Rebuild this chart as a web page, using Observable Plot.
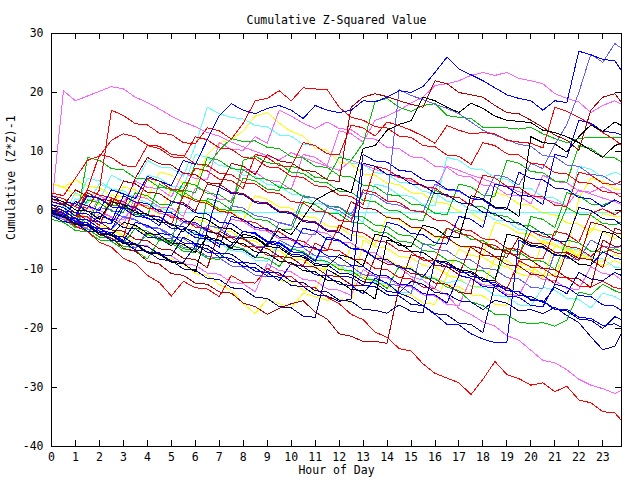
<!DOCTYPE html>
<html><head><meta charset="utf-8">
<script src="https://cdn.jsdelivr.net/npm/d3@7"></script>
<script src="https://cdn.jsdelivr.net/npm/@observablehq/plot@0.6"></script>
<style>body{margin:0;background:#fff}</style>
</head><body><div id="chart"></div>
<script>
const hours = [0,0.5,1,1.5,2,2.5,3,3.5,4,4.5,5,5.5,6,6.5,7,7.5,8,8.5,9,9.5,10,10.5,11,11.5,12,12.5,13,13.5,14,14.5,15,15.5,16,16.5,17,17.5,18,18.5,19,19.5,20,20.5,21,21.5,22,22.5,23,23.5,23.78];
const xTicks = [0,1,2,3,4,5,6,7,8,9,10,11,12,13,14,15,16,17,18,19,20,21,22,23];
const yTicks = [-40,-30,-20,-10,0,10,20,30];

const magTop = [0.5,20.3,18.6,19.4,20.2,21.0,20.6,19.2,18.3,17.2, 16.0,15.0,14.2,13.2,12.6,11.6,10.8,10.0,9.3,8.6, 9.8,9.0,8.2,7.5,6.8,8.5,7.8,7.0,6.2,5.6, 5.0,4.2,3.6,7.5,6.8,6.0,5.4,4.6,4.0,3.2, 2.6,2.0,1.4,0.8,3.5,2.8,2.1,1.5, 1.0];
const blueTop = [-0.5,-1.2,1.5,0.8,0.0,3.5,2.8,2.0,5.8,5.0, 4.2,8.5,7.8,12.0,16.1,18.1,17.0,16.4,17.3,17.8, 17.0,15.6,17.8,17.0,16.6,17.0,18.6,18.4,19.2,20.3, 20.0,21.0,23.4,26.0,24.0,23.0,22.0,20.8,19.6,19.0, 18.6,17.0,18.6,18.3,27.0,26.4,25.6,25.4, 23.7];
const ltBlueTop = [0.0,-0.6,-1.7,-2.1,0.5,0.1,-1.2,-1.6,-2.7,-3.0, -4.1,-2.0,-2.4,-3.6,-4.0,0.8,0.4,-0.9,-1.2,-2.1, -2.6,2.5,2.1,0.8,0.6,-0.6,3.0,2.6,1.2,0.9, 0.0,-0.3,4.5,3.5,3.2,2.1,1.8,6.0,5.6,4.3, 8.0,7.1,11.2,14.6,20.0,26.5,25.1,28.3, 27.5];
const redBottom = [0.2,-1.0,-2.7,-3.5,-5.4,-6.2,-8.1,-9.0,-11.0,-12.2, -14.5,-12.0,-13.1,-13.3,-14.6,-11.0,-12.2,-12.3,-9.8,-11.0, -11.2,-12.8,-13.1,-14.7,-15.8,-17.6,-18.5,-20.6,-21.5,-23.4, -23.8,-26.0,-27.6,-28.4,-29.2,-31.2,-28.6,-25.6,-27.8,-28.5, -29.6,-29.2,-30.7,-29.8,-32.1,-32.6,-34.1,-34.3, -35.6];
const magBottom = [-0.5,-1.0,-2.3,0.5,0.1,-1.2,-1.6,1.2,0.8,-0.5, -0.8,-2.1,-2.3,-3.6,-3.8,-1.5,-1.9,-3.2,-3.5,-4.8, -5.0,-6.2,-3.5,-3.9,-5.3,-5.5,-6.9,-7.2,-8.7,-9.6, -11.2,-11.8,-13.3,-14.3,-16.6,-17.6,-18.9,-19.6,-21.2,-22.0, -23.7,-25.4,-25.8,-27.0,-28.6,-29.6,-30.2,-31.0, -30.5];
const darkRedLow = [0.5,-0.4,-1.9,-2.5,-4.1,-4.7,-6.4,-6.9,-8.6,-9.1, -10.7,-11.0,-12.3,-12.5,-13.8,-14.0,-15.7,-16.3,-17.6,-16.6, -15.8,-15.3,-17.2,-18.4,-20.9,-21.3,-22.2,-22.2,-22.5,-13.0, -7.5,-8.0,-9.3,-9.5,-10.9,-6.0,-6.5,-7.8,-7.9,-4.5, -5.5,-5.7,-7.1,-7.2,-8.5,-2.0,-2.5,-3.8, -3.9];
const navyA = [-0.3,-1.0,-2.2,-2.6,-1.0,-1.5,-2.9,-3.1,-4.5,-4.7, -6.0,-3.0,-3.5,-4.9,-5.1,-6.5,-6.7,-8.0,-5.5,-6.0, -7.4,-7.6,-9.0,-9.2,-10.6,-10.8,-12.1,-12.3,-13.7,-14.0, -12.0,-12.5,-13.9,-14.1,-15.3,-15.5,-16.8,-15.2,-15.7,-17.0, -16.8,-17.5,-16.4,-17.8,-19.0,-21.4,-23.6,-23.0, -20.8];
const blueLow = [0.0,-0.5,-1.9,-2.1,-3.5,-3.7,-5.1,-2.0,-2.5,-3.9, -4.1,-5.5,-5.7,-7.1,-7.3,-8.7,-8.9,-10.3,-10.5,-11.9, -9.0,-9.5,-10.9,-11.1,-12.5,-12.7,-14.1,-11.5,-12.3,-14.0, -14.8,-16.2,-17.6,-19.3,-19.4,-20.9,-21.8,-22.4,-22.3,-5.0, -6.1,-6.3,-7.6,-7.8,-9.1,-9.3,-7.0,-8.1, -8.3];
const blueB = [1.0,0.5,-0.9,2.5,2.0,0.6,0.4,-1.0,-1.2,-2.6, 1.5,1.0,-0.4,-0.6,-2.0,-2.2,-3.6,-3.8,-5.2,-5.4, -6.8,-3.0,-3.5,-4.9,-5.1,-6.5,-6.7,-8.1,-8.3,-9.7, -9.9,-11.3,-8.5,-9.0,-10.4,-10.6,-12.0,-12.2,-13.6,-13.7, -15.1,-15.3,-16.7,-16.7,-18.1,-18.3,-19.5,-19.2, -19.8];
const darkRedHigh = [1.5,0.9,3.5,2.4,2.1,0.8,5.0,4.5,3.1,2.9, 1.5,1.3,-0.1,4.5,4.0,8.0,7.5,6.1,9.5,8.4, 8.1,6.8,6.6,5.2,4.9,17.5,19.2,19.8,19.3,18.6, 18.0,17.5,22.0,21.5,20.0,19.6,19.2,17.8,16.6,16.4, 15.3,14.1,12.8,11.9,10.2,17.0,19.2,19.8, 18.3];
const blackA = [-0.5,-1.0,-2.4,-2.6,-4.0,-4.2,-2.0,-2.5,-3.9,-4.1, -5.5,-5.7,-7.1,-4.5,-5.0,-6.4,-4.0,-4.5,-5.9,-3.0, -4.1,-1.2,1.7,2.9,3.8,3.0,10.5,11.0,13.6,14.6, 15.2,19.2,18.6,17.5,16.6,18.2,17.3,16.0,15.3,15.1, 14.9,13.6,13.2,12.5,11.5,10.2,9.0,11.0, 11.4];
const blackB = [2.0,1.5,0.1,-0.1,-1.5,1.5,1.0,-0.4,-0.6,-2.0, -2.2,-3.6,-1.0,-1.5,-2.9,-3.1,-4.5,-4.7,-6.1,-6.3, -7.7,-7.9,-9.3,-9.5,-7.5,-8.0,-9.4,-4.0,-4.5,-5.9, -6.1,-2.5,-3.0,-4.4,-4.6,2.5,2.0,0.6,0.4,-1.0, 12.5,11.5,11.3,9.9,12.5,14.5,13.4,15.0, 14.4];
const blackC = [-0.5,-1.0,-2.4,-2.6,-4.0,-4.2,-5.6,-5.8,-7.2,-7.4, -8.8,-9.0,-10.4,-3.5,-4.0,-5.4,-5.6,-7.0,-7.2,-8.6, -8.8,-10.2,-10.4,-11.8,-12.0,-13.4,-13.6,-15.0,-5.0,-5.5, -6.9,-7.1,-8.5,-8.7,-10.1,-10.3,-11.7,-11.9,-4.0,-4.5, -5.9,-6.1,-7.5,-7.7,-9.1,-9.3,-3.5,-4.0, -4.9];
const greenA = [0.0,-0.6,-1.9,1.8,1.3,-0.1,-0.3,3.0,2.5,1.1, 0.9,4.8,4.3,2.9,2.7,1.3,5.5,5.0,3.6,3.4, 7.5,7.0,5.6,5.4,9.0,8.5,11.4,18.5,19.0,17.5, 16.8,17.8,18.1,16.1,15.8,15.6,14.1,14.0,14.0,13.8, 14.1,13.0,12.2,11.5,12.2,12.4,12.4,12.4, 12.4];
const redB = [2.5,2.0,0.6,0.4,3.5,17.0,16.1,14.7,14.5,13.1, 12.9,11.5,11.3,14.0,13.5,12.1,14.8,18.6,19.0,20.3, 18.6,20.8,20.6,20.5,17.5,15.8,15.3,14.2,14.0,12.6, 12.4,11.0,10.8,9.4,9.2,7.8,11.5,11.0,9.6,9.4, 8.0,7.8,6.4,6.2,4.8,4.6,3.2,3.0, 2.2];
const redC = [1.0,0.5,-0.9,-1.1,-2.5,2.0,1.5,0.1,5.5,5.0, 3.6,3.4,7.2,6.7,5.3,5.1,3.7,9.5,9.0,7.6, 7.4,11.5,11.0,9.6,9.4,14.5,14.0,12.6,15.0,14.4, 13.6,12.6,11.4,14.4,13.6,13.0,13.2,13.0,11.9,11.6, 11.4,10.6,17.5,16.8,15.8,14.6,13.2,12.0, 11.0];
const magB = [-0.8,-1.3,-2.7,-2.9,-0.5,-1.0,-2.4,2.5,2.0,0.6, 0.4,-1.0,3.8,3.3,1.9,1.7,7.0,6.5,5.1,4.9, 3.5,9.5,9.0,7.6,13.5,13.0,11.6,15.3,16.0,17.0, 18.2,19.2,21.2,21.5,22.0,22.9,23.4,22.9,23.4,22.4, 22.0,21.5,19.8,19.0,18.4,16.6,17.8,18.6, 18.0];
const ltBlueB = [0.5,0.0,-1.4,-1.6,-3.0,-3.2,-1.0,-1.5,-2.9,-3.1, -4.5,-4.7,-6.1,-2.5,-3.0,-4.4,-4.6,-6.0,-6.2,-2.0, -2.5,-3.9,-4.1,0.5,0.0,-1.4,3.5,3.0,1.6,20.5, 19.5,18.8,18.0,17.3,16.4,15.0,13.6,12.8,12.0,11.2, 10.9,9.3,9.1,7.7,7.5,6.1,5.9,4.6, 4.4];
const cyanFlat = [0.0,-0.8,2.0,1.2,4.5,3.7,2.9,2.1,1.3,0.5, -0.2,-0.3,-0.3,-0.3,-0.3,-0.3,-0.3,-0.3,-0.3,-0.3, -0.3,-0.3,-0.3,-0.3,-0.3,-0.3,-0.3,-0.3,-0.3,-0.3, -0.3,-0.3,-0.3,-0.3,-0.3,-0.3,-0.3,-0.3,-0.3,-0.3, -0.3,-0.3,-0.3,-0.3,-0.3,-0.3,-0.3,-0.3, -0.3];
const greenB = [-0.5,-1.0,-2.4,-2.6,-4.0,-4.2,-5.6,-3.0,-3.5,-4.9, -5.1,-6.5,-6.7,-8.1,-8.3,-6.0,-6.5,-7.9,-8.1,-9.5, -6.5,-7.0,-8.4,-8.6,-10.0,-10.2,-11.6,-11.8,-13.2,-9.5, -10.0,-11.4,-11.6,-13.0,-13.6,-15.5,-16.1,-17.6,-17.7,-18.9, -19.2,-19.0,-19.6,-18.6,-13.8,-14.3,-12.5,-13.6, -14.0];
const blueC = [1.5,1.0,-0.4,-0.6,-2.0,-2.2,1.0,0.5,-0.9,-1.1, -2.5,-2.7,-4.1,-4.3,-5.7,-5.9,-3.5,-4.0,-5.4,-5.6, -7.0,-7.2,-8.6,-4.5,-5.0,-6.4,-6.6,-8.0,-2.0,-2.5, -3.9,-4.1,-5.5,-5.7,-1.0,-1.5,-2.9,4.5,4.0,2.6, 2.4,1.0,9.5,9.0,15.3,14.8,13.4,13.2, 12.8];
const yellowA = [0.5,0.0,-1.4,-1.6,-3.0,-3.2,-4.6,-2.0,-2.5,-3.9, -4.1,-5.5,-5.7,-7.1,-7.3,-8.7,-8.9,-10.3,-10.5,-11.9, -12.1,-13.5,-13.7,-9.0,-9.5,-10.9,-11.1,-12.5,-12.7,-14.1, -14.3,-15.7,-15.9,-11.0,-11.5,-12.9,-13.1,-8.0,-8.5,-9.9, -10.1,-11.5,-6.0,-6.5,-7.9,-8.1,-9.5,-8.5, -9.0];
const yellowB = [1.5,0.8,-0.6,-1.0,-2.6,-3.1,-4.2,-5.6,-6.1,-7.6, -8.2,-9.1,-10.7,-11.0,-12.6,-13.5,-15.8,-17.5,-15.0,-15.8, -16.5,-14.0,-14.6,-15.2,-15.0,-15.6,-5.0,-6.1,-6.4,-7.8, -8.0,-9.3,-9.6,-10.8,-6.5,-7.6,-7.9,-9.2,-9.5,-10.7, -11.3,-5.0,-6.1,-6.4,-7.7,-3.0,-3.6,-4.8, -4.0];
const magC = [0.0,-1.2,-1.4,-2.7,-3.0,-4.3,-4.5,-5.9,-6.0,-7.5, -7.7,-9.0,-9.3,-10.6,-10.8,-12.2,-12.4,-13.8,-9.0,-10.2, -10.4,-11.7,-11.9,-13.3,-13.5,-14.4,-10.0,-11.2,-11.4,-12.7, -12.9,-14.3,-14.5,-15.9,-16.1,-11.5,-12.6,-12.8,-14.2,-14.4, -10.5,-11.7,-11.9,-13.2,-13.4,-9.5,-10.7,-10.9, -11.8];
const redD = [2.0,1.1,0.7,3.5,2.6,2.2,0.9,0.6,-0.8,-1.0, -2.4,2.5,1.6,1.2,-0.1,-0.4,-1.8,-2.0,-3.4,-3.6, -5.0,-5.2,-6.6,-6.8,-2.5,-3.4,-3.8,-5.1,-5.4,-6.8, -7.0,-8.4,-8.6,-3.0,-3.9,-4.3,-5.6,-5.9,-7.3,-7.5, -3.5,-4.4,-4.8,-6.1,-6.4,-7.8,-6.0,-7.1, -7.4];
const greenC = [-1.0,-1.5,-2.9,-3.1,-4.5,-4.7,-6.1,-6.3,-4.0,-5.0, -5.6,3.5,3.0,9.0,8.5,7.1,6.9,5.5,5.3,3.9, 3.7,2.3,2.1,0.7,0.5,-0.9,-1.1,-2.5,-2.7,-4.1, -4.3,-5.7,-5.9,-3.0,-3.5,-4.9,-5.1,-6.5,-6.7,-8.1, -1.0,-1.5,-2.9,3.0,2.5,1.1,0.9,1.8, 1.2];
const navyB = [0.0,-1.1,-1.4,-2.6,-3.1,-4.2,-4.5,-5.8,-6.1,-7.4, -7.7,-4.5,-5.6,-5.9,-7.2,-7.4,-8.8,-9.0,-10.4,-10.6, -12.0,-12.2,-13.6,-13.8,-15.2,-15.4,-16.8,-16.9,-17.4,-16.0, -17.1,-17.3,-8.5,-9.6,-9.9,-11.2,-11.4,-12.8,-13.0,-14.4, -14.6,-15.6,-13.0,-14.1,-10.5,-11.6,-11.9,-10.5, -11.0];
const cyanA = [1.0,0.6,-0.9,-1.2,-2.5,1.5,1.1,-0.4,-0.7,-2.0, -2.2,-3.6,-3.8,-5.2,-5.4,-6.8,-7.0,-8.4,-8.6,-5.5, -6.0,-7.4,-7.6,-9.0,-9.2,-10.6,-10.8,-12.2,-12.4,-13.8, -14.0,-11.0,-11.5,-12.3,-11.8,-12.8,-13.0,-14.4,-14.6,-16.0, -16.2,-13.0,-13.5,-14.9,-15.1,-16.5,-14.0,-14.6, -15.2];
const ltBlueC = [-0.5,-1.6,-1.8,-3.2,-3.4,-4.8,-5.0,-6.4,-3.5,-4.6, -4.8,-6.2,-6.4,-7.8,-8.0,-9.4,-9.6,-11.0,-11.2,-5.0, -6.1,-6.3,-7.7,-7.9,-9.3,-9.5,-10.9,-11.1,-12.5,-12.7, -14.1,-5.5,-6.6,-6.8,-8.2,-8.4,-9.8,-10.0,-11.4,-11.6, -13.0,-13.2,-7.0,-8.1,-8.3,-5.0,-6.1,-6.3, -6.1];
const yellowC = [4.5,3.9,5.2,4.1,3.9,2.5,2.3,0.9,0.7,-0.7, 3.5,2.9,1.6,1.4,0.0,-0.2,-1.6,2.5,1.9,0.6, 0.4,-1.0,-1.2,-2.6,-2.8,-4.2,-4.4,-5.8,-1.0,-1.6, -2.9,-3.1,-4.5,-4.7,-6.1,-6.3,-7.7,-2.0,-2.6,-3.9, -4.1,-5.5,-5.7,-7.1,2.0,5.5,4.9,3.6, 3.6];
const redE = [3.0,2.5,5.5,8.5,9.2,11.9,13.0,12.5,11.1,10.9, 9.5,9.3,7.9,7.7,6.3,6.1,4.7,4.5,3.1,2.9, 1.5,1.3,-0.1,-0.3,-1.7,-1.9,3.5,3.0,1.6,1.4, 0.0,-0.2,-1.6,-1.8,-3.2,-3.4,-4.8,-5.0,-6.4,-6.6, -8.0,-8.2,-3.5,-4.0,-5.4,-0.5,0.3,-0.7, 0.0];
const darkRedC = [0.0,-1.1,-1.3,3.0,1.9,1.7,0.3,5.5,9.0,7.9, 7.7,6.3,6.1,4.7,4.5,3.1,2.9,1.5,1.3,-0.1, -0.3,-1.7,-1.9,-3.3,-3.5,1.5,0.4,0.2,-1.2,-1.4, -2.8,-3.0,-4.4,-4.6,-6.0,-6.2,-7.6,-7.8,-9.2,-9.4, -10.8,-11.0,-12.4,-7.0,-8.1,-8.3,-9.7,-3.0, -3.4];
const greenD = [-1.5,-2.0,-3.4,-3.6,-5.0,-5.2,-6.6,-6.8,-8.2,-5.0, -5.5,-6.9,-7.1,2.0,1.5,0.1,-0.1,-1.5,-1.7,-3.1, -3.3,1.5,1.0,-0.4,-0.6,-2.0,-2.2,-3.6,-3.8,-5.2, -5.4,-6.8,-7.0,-8.4,-8.6,-10.0,-10.2,-11.6,-6.5,-7.0, -8.4,-8.6,-10.0,-5.0,-5.5,-6.9,-7.1,-6.5, -7.0];
const blueD = [2.5,1.4,1.2,-0.2,-0.4,-1.8,2.5,1.4,1.2,-0.2, -0.4,-1.8,-2.0,-3.4,4.0,2.9,2.7,1.3,1.1,-0.3, -0.5,-1.9,-2.1,-3.5,-3.7,-5.1,9.5,8.4,8.2,6.8, 6.6,5.2,5.0,3.6,3.4,2.0,1.8,0.4,0.2,6.5, 5.4,5.2,3.8,3.6,2.2,2.0,0.6,1.8, 1.2];
const navyC = [-0.3,-0.8,-2.2,-2.4,-3.8,-4.0,-5.4,-5.6,-7.0,-7.2, -8.6,-8.8,-6.0,-6.5,-7.9,-8.1,-9.5,-9.7,-11.1,-11.3, -12.7,-12.9,-14.3,-14.5,-15.4,-15.0,8.0,7.5,6.1,5.9, 4.5,4.3,2.9,2.7,1.3,1.1,-0.3,-0.5,-1.9,-2.1, -3.5,-3.7,-5.1,-5.3,0.5,0.0,-1.4,-1.6, -2.5];
const cyanB = [2.0,1.5,0.1,5.5,5.0,3.6,3.4,2.0,6.0,5.5, 4.1,3.9,9.5,9.0,7.6,7.4,6.0,5.8,4.4,4.2, 2.8,2.6,1.2,1.0,-0.4,-0.6,-2.0,4.5,4.0,2.6, 2.4,1.0,0.8,9.0,8.5,7.1,6.9,5.5,5.3,3.9, 3.7,2.3,2.1,0.7,7.5,7.0,5.6,6.5, 6.0];
const cyanC = [0.5,-0.6,3.0,1.9,1.7,6.0,4.9,4.7,8.5,7.4, 7.2,5.8,11.0,17.5,16.4,15.8,15.5,14.4,14.2,12.8, 12.6,11.2,11.0,9.6,9.4,8.0,7.8,6.4,6.2,4.8, 4.6,3.2,3.0,1.6,1.4,0.0,-0.2,-1.6,-1.8,-3.2, -3.4,-4.8,-5.0,-6.4,-6.6,-8.0,-8.2,-9.6, -9.8];
const yellowD = [4.5,4.0,2.6,2.4,1.0,0.8,4.0,3.5,2.1,6.5, 6.0,4.6,4.4,9.5,11.5,12.0,13.5,16.0,16.6,14.8, 13.4,12.6,10.6,10.2,8.2,7.9,6.2,6.0,4.6,4.4, 3.0,2.8,1.4,1.2,-0.2,-0.4,-1.8,3.0,2.5,1.1, 0.9,-0.5,-0.7,-2.1,-2.3,-3.7,-0.5,-1.0, -1.0];
const redF = [0.0,-1.1,-1.3,-2.7,-2.9,-4.3,-4.5,1.5,0.4,0.2, -1.2,-1.4,-2.8,-3.0,-4.4,-4.6,-6.0,-6.2,-7.6,-7.8, -9.2,-9.4,-5.5,-6.6,-6.8,-8.2,-8.4,-9.8,-10.0,-11.4, -11.6,-13.0,-13.2,-9.0,-10.1,-10.3,-11.7,-11.9,-13.3,-8.5, -9.6,-9.8,-11.2,-11.4,-12.8,-13.0,-12.0,-13.1, -13.2];
const greenE = [-1.0,-1.5,-2.9,9.0,8.5,7.1,6.9,5.5,5.3,3.9, 3.7,2.3,8.0,7.5,10.2,12.2,11.7,11.8,10.7,10.5, 9.1,8.9,7.5,7.3,5.9,5.7,4.3,4.1,2.7,2.5, 1.1,0.9,-0.5,-0.7,4.5,4.0,2.6,2.4,8.5,8.0, 6.6,6.4,5.0,4.8,11.0,10.5,9.1,8.9, 8.2];
const magD = [1.0,-0.1,-0.3,-1.7,2.5,1.4,1.2,5.0,3.9,3.7, 2.3,6.5,5.4,5.2,11.5,10.4,10.2,12.5,11.4,17.0, 16.0,14.8,13.9,15.0,13.9,13.7,12.3,12.1,10.7,10.5, 9.1,8.9,7.5,7.3,5.9,5.7,4.3,4.1,2.7,2.5, 1.1,6.0,4.9,4.7,3.3,3.1,4.0,2.9, 2.8];
const blueE = [0.5,0.0,-1.4,-1.6,-3.0,-3.2,0.5,0.0,-1.4,-1.6, -3.0,-3.2,-4.6,-4.8,-6.2,-1.0,-1.5,-2.9,-3.1,-4.5, -4.7,-6.1,-6.3,-7.7,-7.9,-9.3,-9.5,-10.9,-11.1,-12.5, -12.7,-14.1,-14.3,-15.7,-11.0,-11.5,-12.9,-13.1,-14.5,-14.7, -16.1,-16.3,-12.5,-13.0,-14.4,-14.6,-16.0,-16.2, -17.0];
const navyD = [-0.8,-1.9,-2.1,-3.5,-3.7,-5.1,-5.3,-6.7,-6.9,-8.3, -8.5,-9.9,-10.1,-11.5,-11.7,-13.1,-13.3,-14.7,-14.9,-16.3, -16.5,-17.9,-18.1,-10.0,-11.1,-11.3,-12.7,-12.9,-14.3,-14.5, -15.9,-16.1,-17.5,-17.7,-19.1,-19.3,-20.7,-12.5,-13.6,-13.8, -15.2,-15.4,-16.8,-17.0,-18.4,-18.6,-20.0,-18.0, -18.5];
const yellowE = [2.5,2.0,0.6,0.4,-1.0,-1.2,-2.6,-2.8,-4.2,-4.4, -5.8,-6.0,-1.5,-2.0,-3.4,-3.6,-5.0,-5.2,-6.6,-6.8, -8.2,-8.4,-9.8,-10.0,-11.4,-6.0,-6.5,-7.9,-8.1,-9.5, -9.7,-11.1,-11.3,-12.7,-12.9,-14.3,-14.5,-15.9,-16.1,-9.0, -9.5,-10.9,-11.1,-6.5,-7.0,-8.4,-8.6,-7.5, -8.0];
const greenF = [0.5,-0.6,-0.8,-2.2,2.0,0.9,0.7,-0.7,-0.9,4.5, 3.4,3.2,1.8,1.6,0.2,0.0,8.5,9.2,8.1,7.9, 6.5,6.3,4.9,4.7,3.3,3.1,1.7,1.5,0.1,-0.1, -1.5,-1.7,3.5,2.4,2.2,0.8,0.6,-0.8,-1.0,-2.4, -2.6,-4.0,-4.2,0.5,-0.6,-0.8,-2.2,-2.4, -2.0];
const redG = [1.0,0.5,-0.9,3.5,9.5,9.0,7.6,7.4,11.0,10.5, 9.1,8.9,12.5,12.0,10.6,10.4,9.0,8.8,7.4,7.2, 5.8,5.6,4.2,4.0,2.6,2.4,1.0,7.5,7.0,5.6, 5.4,4.0,3.8,2.4,2.2,0.8,6.0,5.5,4.1,3.9, 2.5,2.3,0.9,0.7,6.5,6.0,4.6,4.4, 5.0];
const darkRedD = [1.0,-0.1,-0.3,-1.7,-1.9,-3.3,-3.5,-4.9,-5.1,-6.5, -6.7,-8.1,-8.3,-9.7,-3.5,-4.6,-4.8,-6.2,-6.4,-7.8, -8.0,-9.4,-9.6,-11.0,-11.2,-12.6,-12.8,-8.0,-9.1,-9.3, -10.7,-10.9,-12.3,-12.5,-13.9,-14.1,-5.5,-6.6,-6.8,-8.2, -8.4,-9.8,-10.0,-11.4,-11.6,-13.0,-5.0,-6.1, -6.0];

const RED="#ff0000", GREEN="#00c000", BLUE="#0000ff", LTBLUE="#6060ff", NAVY="#0000b0",
      MAG="#ff60ff", CYAN="#60ffff", YEL="#ffff00", DKRED="#b00000", BLACK="#000000";

const series = [
  ["yellowA",yellowA,YEL],["yellowB",yellowB,YEL],["yellowC",yellowC,YEL],["yellowD",yellowD,YEL],["yellowE",yellowE,YEL],
  ["cyanFlat",cyanFlat,CYAN],["cyanA",cyanA,CYAN],["cyanB",cyanB,CYAN],["cyanC",cyanC,CYAN],
  ["magC",magC,MAG],["magD",magD,MAG],["magB",magB,MAG],["magBottom",magBottom,MAG],["magTop",magTop,MAG],
  ["greenA",greenA,GREEN],["greenB",greenB,GREEN],["greenC",greenC,GREEN],["greenD",greenD,GREEN],["greenE",greenE,GREEN],["greenF",greenF,GREEN],
  ["ltBlueTop",ltBlueTop,LTBLUE],["ltBlueB",ltBlueB,LTBLUE],["ltBlueC",ltBlueC,LTBLUE],
  ["redD",redD,RED],["redE",redE,RED],["redF",redF,RED],["redG",redG,RED],["redC",redC,RED],["redB",redB,RED],["redBottom",redBottom,RED],
  ["darkRedLow",darkRedLow,DKRED],["darkRedHigh",darkRedHigh,DKRED],["darkRedC",darkRedC,DKRED],["darkRedD",darkRedD,DKRED],
  ["navyA",navyA,NAVY],["navyB",navyB,NAVY],["navyC",navyC,NAVY],["navyD",navyD,NAVY],
  ["blueB",blueB,BLUE],["blueC",blueC,BLUE],["blueD",blueD,BLUE],["blueE",blueE,BLUE],["blueLow",blueLow,BLUE],["blueTop",blueTop,BLUE],
  ["blackA",blackA,BLACK],["blackB",blackB,BLACK],["blackC",blackC,BLACK]
];

const rows = series.flatMap(([name, vals, color]) =>
  vals.map((v, i) => ({series: name, color, hour: hours[i], value: v})).filter(d => d.hour !== undefined));

const FONT = "'DejaVu Sans Mono', monospace";
const FS = 11.5;

const chart = Plot.plot({
  width: 640, height: 480,
  marginLeft: 51, marginRight: 19, marginTop: 33, marginBottom: 34,
  style: {fontFamily: FONT, fontSize: FS + "px", background: "#fff", color: "#000"},
  x: {domain: [0, 23.78]},
  y: {domain: [-40, 30]},
  color: {type: "identity"},
  marks: [
    Plot.line(rows, {x: "hour", y: "value", z: "series", stroke: "color", strokeWidth: 1, shapeRendering: "crispEdges"}),
    Plot.frame({stroke: "#000", shapeRendering: "crispEdges"}),
    Plot.tickX(xTicks, {x: d => d, insetTop: 407, stroke: "#000", shapeRendering: "crispEdges"}),
    Plot.tickX(xTicks, {x: d => d, insetBottom: 407, stroke: "#000", shapeRendering: "crispEdges"}),
    Plot.tickY(yTicks, {y: d => d, insetRight: 564, stroke: "#000", shapeRendering: "crispEdges"}),
    Plot.tickY(yTicks, {y: d => d, insetLeft: 564, stroke: "#000", shapeRendering: "crispEdges"}),
    Plot.axisX(xTicks, {tickSize: 0, tickPadding: 6, label: null, tickFormat: d => String(d), fontSize: FS}),
    Plot.axisY(yTicks, {tickSize: 0, tickPadding: 8, label: null, tickFormat: d => String(d), fontSize: FS}),
    Plot.text(["Cumulative Z-Squared Value"], {text: d => d, frameAnchor: "top", dy: -18, fontSize: FS, fontFamily: FONT}),
    Plot.text(["Hour of Day"], {text: d => d, frameAnchor: "bottom", dy: 27.5, fontSize: FS, fontFamily: FONT}),
    Plot.text(["Cumulative (Z*Z)-1"], {text: d => d, frameAnchor: "left", dx: -40.5, rotate: -90, fontSize: FS, fontFamily: FONT})
  ]
});
document.getElementById("chart").appendChild(chart);
</script>
</body></html>
